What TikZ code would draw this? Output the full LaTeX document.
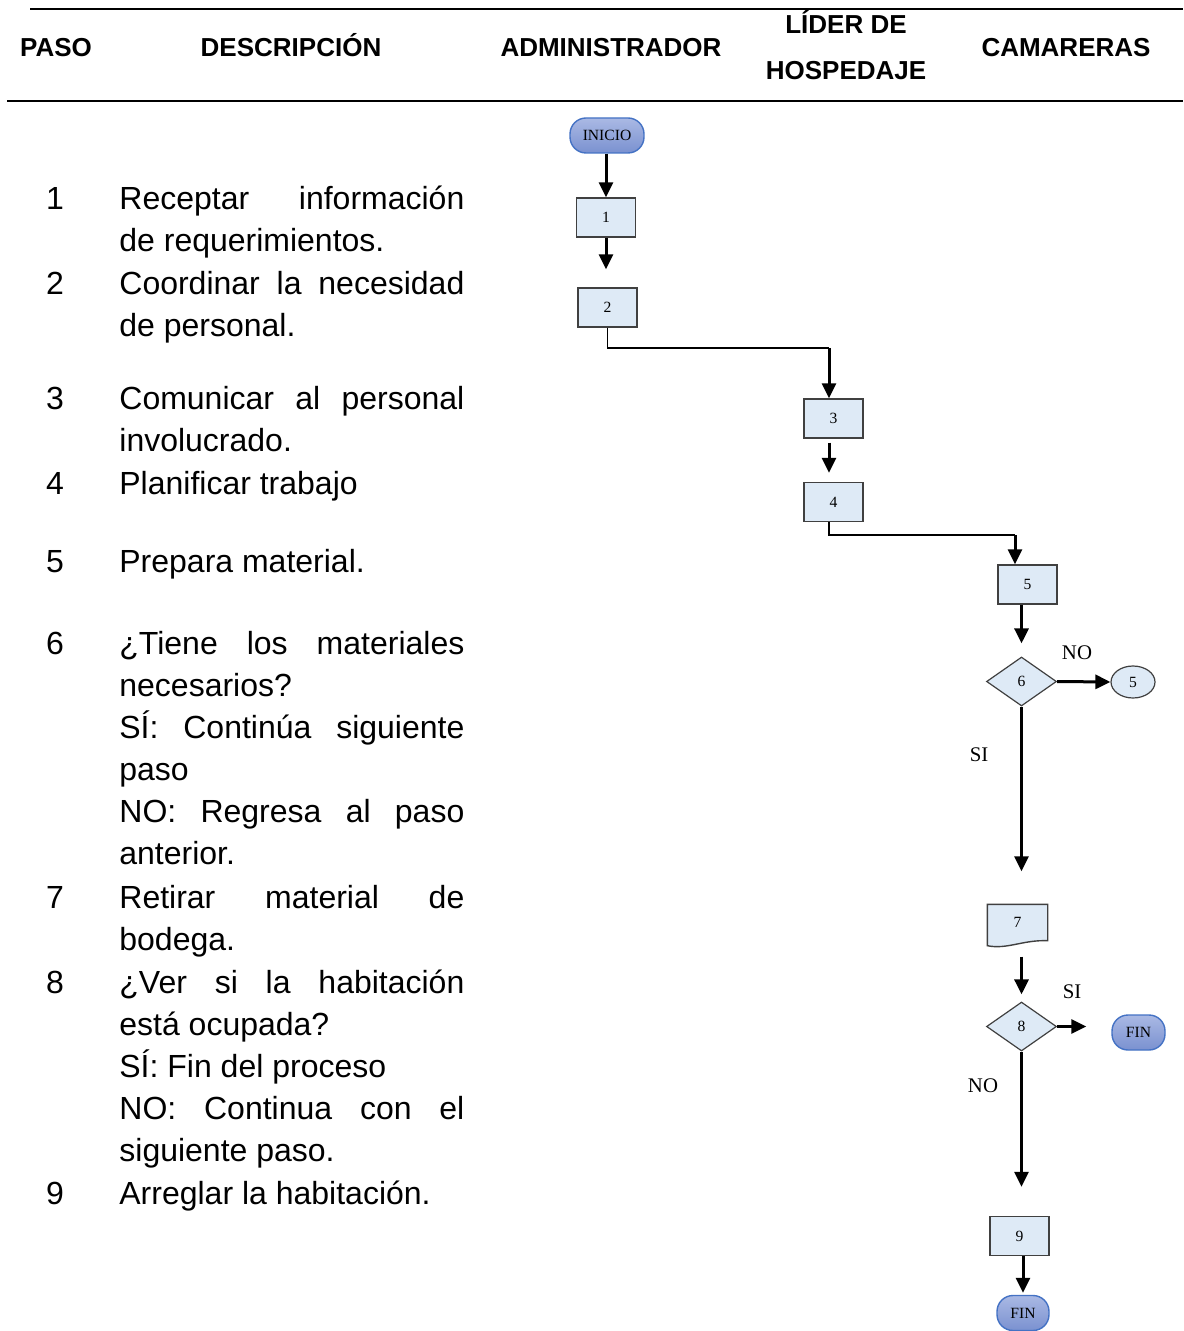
\documentclass[tikz,border=0pt]{standalone}
\usepackage{fontspec}
\setmainfont{Liberation Serif}
\newfontfamily\arialfont{Liberation Sans}
\usepackage{xcolor}
\usetikzlibrary{positioning,arrows.meta,shapes.geometric,backgrounds}

\definecolor{boxfill}{HTML}{DEEAF6}
\definecolor{boxline}{HTML}{404040}
\definecolor{termtop}{HTML}{AAB9E4}
\definecolor{termbottom}{HTML}{7A91D0}
\definecolor{termline}{HTML}{4472C4}

\begin{document}
\begin{tikzpicture}[x=0.5pt, y=-0.5pt,
    head/.style={font=\arialfont\bfseries\fontsize{13}{15}\selectfont, inner sep=0pt, anchor=base},
    num/.style={font=\arialfont\fontsize{16}{21}\selectfont, inner sep=0pt, anchor=base},
    desc/.style={font=\arialfont\fontsize{16}{21}\selectfont, inner sep=0pt, anchor=base west,
      text width=172.5pt, align=justify},
    stepbox/.style={draw=boxline, line width=0.7pt, fill=boxfill, minimum width=29.5pt,
      minimum height=19.5pt, inner sep=0pt, font=\fontsize{7.8}{9}\selectfont},
    decision/.style={diamond, draw=boxline, line width=0.6pt, fill=boxfill, minimum width=35pt,
      minimum height=24.5pt, inner sep=0pt, font=\fontsize{7.8}{9}\selectfont},
    jump/.style={ellipse, draw=boxline, line width=0.6pt, fill=boxfill, minimum width=22pt,
      minimum height=16pt, inner sep=0pt, font=\fontsize{7.8}{9}\selectfont},
    terminal/.style={rounded corners=8pt, draw=termline, line width=0.7pt, top color=termtop,
      bottom color=termbottom, minimum height=17.5pt, inner sep=0pt, font=\fontsize{7.8}{9}\selectfont},
    arr/.style={-{Triangle[length=7.5pt, width=7pt]}, line width=1.5pt},
    link/.style={line width=0.8pt},
    lbl/.style={font=\fontsize{10.4}{12}\selectfont, inner sep=0pt}
  ]
  \useasboundingbox (0,0) rectangle (1183,1331);

  \draw [line width=1.3pt] (30,9) -- (1183,9);
  \draw [line width=1.3pt] (7,101) -- (1183,101);

  \node [head] (H1) at (56,57) {PASO};
  \node [head] (H2) at (291,57) {DESCRIPCIÓN};
  \node [head] (H3) at (611,57) {ADMINISTRADOR};
  \node [head] (H4) at (846,34) {LÍDER DE};
  \node [head] (H5) at (846,80) {HOSPEDAJE};
  \node [head] (H6) at (1066,57) {CAMARERAS};

  \node [num] (N1) at (55,210) {1};
  \node [num] (N2) at (55,295) {2};
  \node [num] (N3) at (55,409) {3};
  \node [num] (N4) at (55,494) {4};
  \node [num] (N5) at (55,572) {5};
  \node [num] (N6) at (55,654) {6};
  \node [num] (N7) at (55,908) {7};
  \node [num] (N8) at (55,993) {8};
  \node [num] (N9) at (55,1204) {9};

  \node [desc] (D1) at (119,210) {Receptar información\linebreak de requerimientos.};
  \node [desc] (D2) at (119,295) {Coordinar la necesidad\linebreak de personal.};
  \node [desc] (D3) at (119,409) {Comunicar al personal\linebreak involucrado.};
  \node [desc] (D4) at (119,494) {Planificar trabajo};
  \node [desc] (D5) at (119,572) {Prepara material.};
  \node [desc] (D6) at (119,654) {¿Tiene los materiales\linebreak necesarios?\\
    SÍ: Continúa siguiente\linebreak paso\\
    NO: Regresa al paso\linebreak anterior.};
  \node [desc] (D7) at (119,908) {Retirar material de\linebreak bodega.};
  \node [desc] (D8) at (119,993) {¿Ver si la habitación\linebreak está ocupada?\\
    SÍ: Fin del proceso\\
    NO: Continua con el\linebreak siguiente paso.};
  \node [desc] (D9) at (119,1204) {Arreglar la habitación.};

  \coordinate (K2) at (829,348);
  \coordinate (K4) at (1015,535);

  \node [terminal, minimum width=37pt] (S0) at (607,135.5) {INICIO};
  \node [stepbox] (S1) at (606,217.5) {1};
  \node [stepbox] (S2) at (607.5,307.5) {2};
  \node [stepbox] (S3) at (833.5,418.5) {3};
  \node [stepbox] (S4) at (833.5,502) {4};
  \node [stepbox] (S5) at (1027.5,584.5) {5};
  \node [decision] (Q6) at (1021.5,681.5) {6};
  \node [jump] (R5) at (1133,682) {5};
  \node [stepbox, draw=none, fill=none, minimum height=17.5pt] (S7) at (1017.5,922.5) {7};
  \node [decision] (Q8) at (1021.5,1026.5) {8};
  \node [terminal, minimum width=26.5pt] (F1) at (1138.5,1032.5) {FIN};
  \node [stepbox] (S9) at (1019.5,1236) {9};
  \node [terminal, minimum width=26pt] (F2) at (1023,1313) {FIN};

  \begin{scope}[on background layer]
    \draw [draw=boxline, line width=0.7pt, fill=boxfill] (S7.north west) -- (S7.north east)
      -- (S7.south east) .. controls +(-25,-1) and +(20,4) .. ([yshift=-2.5pt]S7.south west) -- cycle;
  \end{scope}

  \node [lbl] (L1) at (1077,653) {NO};
  \node [lbl] (L2) at (979,755) {SI};
  \node [lbl] (L3) at (1072,992) {SI};
  \node [lbl] (L4) at (983,1086) {NO};

  \draw [arr] (S0.south -| S1.north) -- (S1.north);
  \draw [arr, shorten >=9pt] (S1.south) -- (S1.south |- S2.north);
  \draw [link] (S2.south) |- (K2);
  \draw [arr] (K2) -- (K2 |- S3.north);
  \draw [arr, shorten <=2pt, shorten >=4.5pt] (S3.south -| K2) -- (S4.north -| K2);
  \draw [link] (S4.south -| K2) |- (K4);
  \draw [arr] (K4) -- (K4 |- S5.north);
  \draw [arr, shorten >=6.5pt] (S5.south -| Q6) -- (Q6.north);
  \draw [arr] (Q6.east) -- (R5.west);
  \draw [arr, shorten >=16.5pt] (Q6.south) -- (Q6.south |- S7.north);
  \draw [arr, shorten <=8pt, shorten >=3.5pt] (S7.south -| Q8) -- (Q8.north);
  \draw [arr, shorten >=12.5pt] (Q8.east) -- (Q8.east -| F1.west);
  \draw [arr, shorten >=14.5pt] (Q8.south) -- (Q8.south |- S9.north);
  \draw [arr, shorten >=1pt] (S9.south -| F2) -- (F2.north);
\end{tikzpicture}
\end{document}
